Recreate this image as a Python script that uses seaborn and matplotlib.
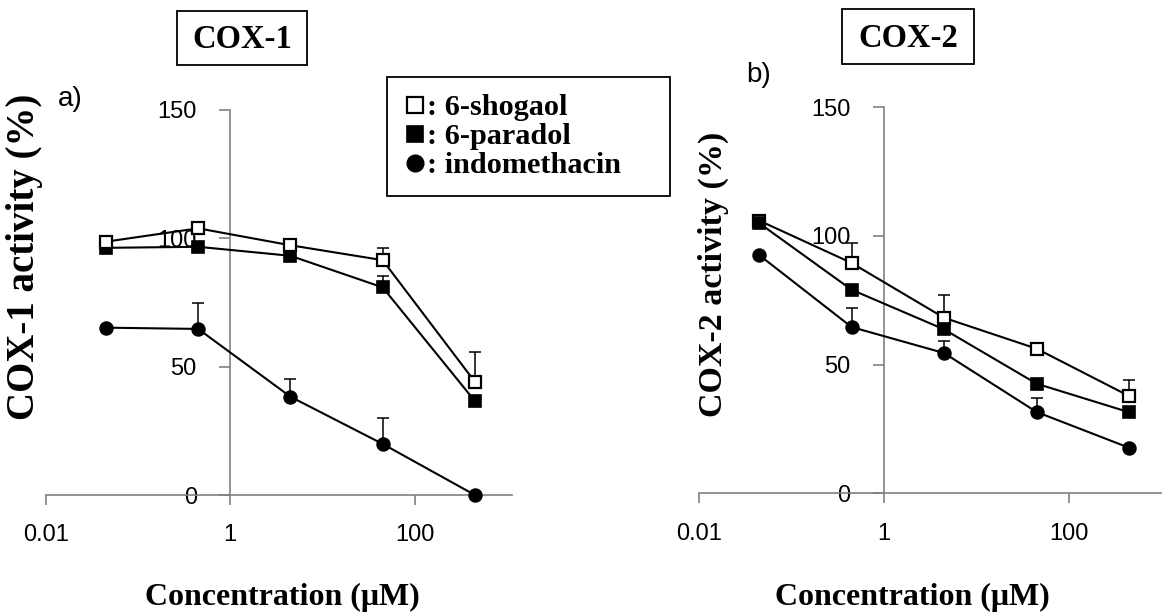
import numpy as np
import pandas as pd
import matplotlib
matplotlib.use("Agg")
import matplotlib.pyplot as plt
import seaborn as sns
from matplotlib.lines import Line2D
from matplotlib.patches import Rectangle

# Concentrations (µM) and compounds
conc = [0.045, 0.45, 4.5, 45, 450]
compounds = ["6-shogaol", "6-paradol", "indomethacin"]

# COX-1 activity (%) and upper error bars
cox1_shogaol = [98.7, 103.9, 97.3, 91.5, 44.1]
cox1_shogaol_err = [0, 0, 0, 4.6, 11.7]
cox1_paradol = [96.3, 96.7, 93.2, 80.9, 36.6]
cox1_paradol_err = [0, 0, 0, 4.4, 0]
cox1_indo = [65.2, 64.7, 38.3, 19.9, 0.0]
cox1_indo_err = [0, 10.2, 6.9, 10.2, 0]

# COX-2 activity (%) and upper error bars
cox2_shogaol = [106.0, 89.5, 68.2, 56.2, 37.8]
cox2_shogaol_err = [0, 7.6, 8.7, 0, 6.4]
cox2_paradol = [105.0, 79.1, 63.7, 42.6, 31.5]
cox2_paradol_err = [0, 0, 0, 0, 0]
cox2_indo = [92.6, 64.6, 54.5, 31.6, 17.7]
cox2_indo_err = [0, 7.5, 4.6, 5.5, 0]

y_ticks = [0, 50, 100, 150]
x_ticks = [0.01, 1, 100]
x_ticklabels = ["0.01", "1", "100"]

SERIF = "Liberation Serif"
SANS = "Liberation Sans"
GREY = "#808080"

sns.set_style("white")
plt.rcParams["font.family"] = [SANS, "DejaVu Sans"]
plt.rcParams["text.color"] = "black"

W, H = 1162, 615
fig = plt.figure(figsize=(W / 100, H / 100), dpi=100)


def fx(px):
    return px / W


def fy(py):
    return 1 - py / H


styles = {
    "6-shogaol": dict(marker="s", markersize=8.8, markerfacecolor="white",
                      markeredgecolor="black", markeredgewidth=1.6),
    "6-paradol": dict(marker="s", markersize=8.8, markerfacecolor="black",
                      markeredgecolor="black", markeredgewidth=1.2),
    "indomethacin": dict(marker="o", markersize=9.4, markerfacecolor="black",
                         markeredgecolor="black", markeredgewidth=1.0),
}


def panel(rect, series, zorders):
    ax = fig.add_axes(rect)
    ax.set_xscale("log")
    for name, vals, errs in series:
        z = zorders[name]
        df = pd.DataFrame({"conc": conc, "activity": vals})
        sns.lineplot(data=df, x="conc", y="activity", ax=ax, color="black",
                     linewidth=1.5, zorder=z, clip_on=False, legend=False,
                     errorbar=None, **styles[name])
        xe = [c for c, e in zip(conc, errs) if e > 0]
        ye = [v for v, e in zip(vals, errs) if e > 0]
        ee = [e for e in errs if e > 0]
        if ee:
            ax.errorbar(xe, ye, yerr=[np.zeros(len(ee)), ee], fmt="none",
                        ecolor="black", elinewidth=1.1, capsize=4,
                        capthick=1.1, zorder=z - 0.5, clip_on=False)
    ax.set_xlim(0.01, 10 ** 3.06)
    ax.set_ylim(0, 150)
    ax.set_xticks(x_ticks)
    ax.set_xticklabels(x_ticklabels)
    ax.xaxis.set_minor_locator(matplotlib.ticker.NullLocator())
    ax.set_yticks(y_ticks)
    ax.set_xlabel("")
    ax.set_ylabel("")
    ax.spines["left"].set_position(("data", 1))
    for s in ("top", "right"):
        ax.spines[s].set_visible(False)
    for s in ("left", "bottom"):
        ax.spines[s].set_color(GREY)
        ax.spines[s].set_linewidth(1.2)
    ax.tick_params(axis="y", left=True, direction="out", length=8, width=1.2,
                   color=GREY, pad=16, labelsize=17, labelcolor="black")
    ax.tick_params(axis="x", bottom=True, direction="out", length=7.2,
                   width=1.2, color=GREY, pad=14, labelsize=17,
                   labelcolor="black")
    for lab in ax.get_xticklabels() + ax.get_yticklabels():
        lab.set_fontfamily(SANS)
    ax.patch.set_alpha(0)
    return ax


ax1 = panel([fx(45.7), fy(495), fx(466.7), 385 / H],
            [("indomethacin", cox1_indo, cox1_indo_err),
             ("6-paradol", cox1_paradol, cox1_paradol_err),
             ("6-shogaol", cox1_shogaol, cox1_shogaol_err)],
            {"indomethacin": 3, "6-paradol": 4, "6-shogaol": 5})

ax2 = panel([fx(698.7), fy(493.3), fx(468), 386 / H],
            [("6-shogaol", cox2_shogaol, cox2_shogaol_err),
             ("indomethacin", cox2_indo, cox2_indo_err),
             ("6-paradol", cox2_paradol, cox2_paradol_err)],
            {"6-shogaol": 4, "indomethacin": 3, "6-paradol": 5})

# Enzyme title boxes
for label, (x0, y0, x1, y1) in [("COX-1", (176.8, 11, 307, 65)),
                                ("COX-2", (842, 9, 973.5, 64))]:
    fig.patches.append(Rectangle((fx(x0), fy(y1)), fx(x1 - x0), (y1 - y0) / H,
                                 transform=fig.transFigure, fill=False,
                                 edgecolor="black", linewidth=1.3))
    cy = (y0 + y1) / 2
    fig.text(fx((x0 + x1) / 2), fy(cy + 10.5), label, ha="center",
             va="baseline", fontsize=23.5, fontweight="bold", family=SERIF)

# Panel letters
fig.text(fx(70), fy(99), "a)", ha="center", va="center", fontsize=20,
         family=SANS)
fig.text(fx(759), fy(75), "b)", ha="center", va="center", fontsize=20,
         family=SANS)

# Axis titles
fig.text(fx(25), fy(257), "COX-1 activity (%)", rotation=90, ha="center",
         va="center", fontsize=28, fontweight="bold", family=SERIF)
fig.text(fx(713), fy(274), "COX-2 activity (%)", rotation=90, ha="center",
         va="center", fontsize=24.5, fontweight="bold", family=SERIF)
for cx in (282, 912):
    fig.text(fx(cx), fy(605), "Concentration (\u03bcM)", ha="center",
             va="baseline", fontsize=23, fontweight="bold", family=SERIF)

# Legend for the three compounds
handles = [Line2D([], [], linestyle="none", **styles[n]) for n in compounds]
for h in handles:
    h.set_markersize(h.get_markersize() * 1.28)
leg = fig.legend(handles, [": " + n for n in compounds],
                 loc="upper left",
                 bbox_to_anchor=(fx(387), fy(198), fx(283), 121 / H),
                 bbox_transform=fig.transFigure, mode="expand",
                 borderaxespad=0, frameon=True, fancybox=False,
                 edgecolor="black", framealpha=1, handlelength=0.7,
                 handletextpad=0.05, labelspacing=0.06, borderpad=0.56,
                 prop=dict(family=SERIF, weight="bold", size=21.8))
leg.get_frame().set_linewidth(1.3)

fig.savefig("out.png", dpi=100)
